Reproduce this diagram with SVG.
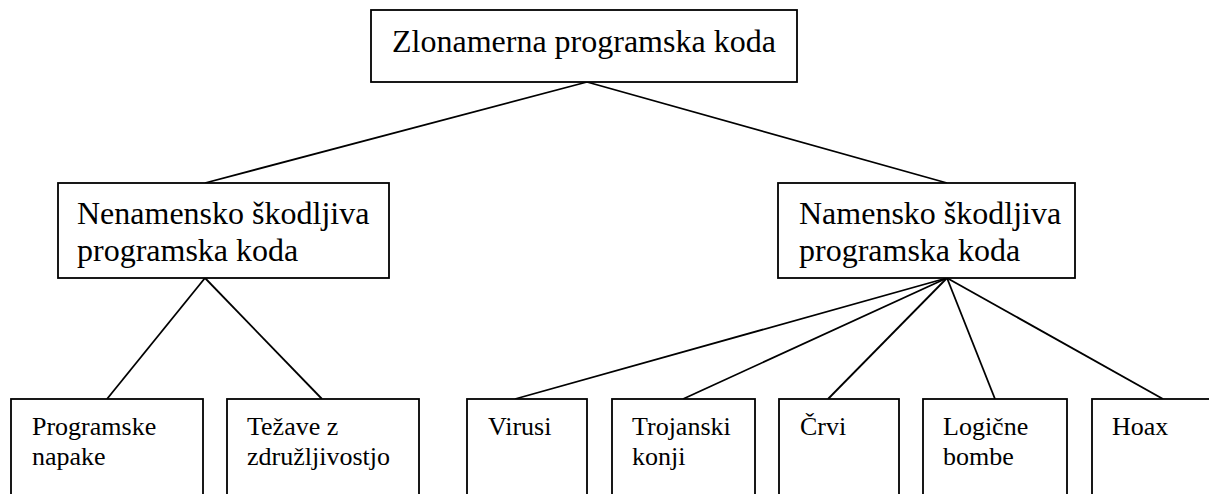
<svg xmlns="http://www.w3.org/2000/svg" width="1209" height="494" viewBox="0 0 1209 494">
<style>
.box{fill:#fff;stroke:#000;stroke-width:1.8}
.big{font-size:32px}
.small{font-size:26px}
#connectors line{stroke:#000;stroke-width:1.8}
</style>
<rect width="1209" height="494" fill="#fff"/>
<g id="connectors">
<line x1="587" y1="82" x2="205" y2="183"/>
<line x1="587" y1="82" x2="947" y2="183"/>
<line x1="205" y1="278" x2="107" y2="399"/>
<line x1="205" y1="278" x2="322" y2="399"/>
<line x1="947" y1="278" x2="515" y2="399"/>
<line x1="947" y1="278" x2="683" y2="399"/>
<line x1="947" y1="278" x2="828" y2="399"/>
<line x1="947" y1="278" x2="995" y2="399"/>
<line x1="947" y1="278" x2="1163" y2="399"/>
</g>
<g fill="#000">
<g id="root" font-family="Liberation Serif, serif">
<rect class="box" x="371" y="10" width="426" height="72"/>
<text class="big" x="392" y="52" font-family="Liberation Serif">Zlonamerna programska koda</text>
</g>
<g id="nenamensko" font-family="Liberation Serif, serif">
<rect class="box" x="58" y="183" width="331" height="95"/>
<text class="big" x="77" y="224" font-family="Liberation Serif">Nenamensko škodljiva</text>
<text class="big" x="77" y="261" font-family="Liberation Serif">programska koda</text>
</g>
<g id="namensko" font-family="Liberation Serif, serif">
<rect class="box" x="778" y="183" width="297" height="95"/>
<text class="big" x="799" y="224" font-family="Liberation Serif">Namensko škodljiva</text>
<text class="big" x="799" y="261" font-family="Liberation Serif">programska koda</text>
</g>
<g id="programske" font-family="Liberation Serif, serif">
<rect class="box" x="11" y="399" width="192" height="110"/>
<text class="small" x="32" y="435" font-family="Liberation Serif">Programske</text>
<text class="small" x="32" y="465" font-family="Liberation Serif">napake</text>
</g>
<g id="tezave" font-family="Liberation Serif, serif">
<rect class="box" x="227" y="399" width="192" height="110"/>
<text class="small" x="247" y="435" font-family="Liberation Serif">Težave z</text>
<text class="small" x="247" y="465" font-family="Liberation Serif">združljivostjo</text>
</g>
<g id="virusi" font-family="Liberation Serif, serif">
<rect class="box" x="467" y="399" width="120" height="110"/>
<text class="small" x="488" y="435" font-family="Liberation Serif">Virusi</text>
</g>
<g id="trojanski" font-family="Liberation Serif, serif">
<rect class="box" x="612" y="399" width="143" height="110"/>
<text class="small" x="632" y="435" font-family="Liberation Serif">Trojanski</text>
<text class="small" x="632" y="465" font-family="Liberation Serif">konji</text>
</g>
<g id="crvi" font-family="Liberation Serif, serif">
<rect class="box" x="779" y="399" width="120" height="110"/>
<text class="small" x="800" y="435" font-family="Liberation Serif">Črvi</text>
</g>
<g id="logicne" font-family="Liberation Serif, serif">
<rect class="box" x="923" y="399" width="144" height="110"/>
<text class="small" x="943" y="435" font-family="Liberation Serif">Logične</text>
<text class="small" x="943" y="465" font-family="Liberation Serif">bombe</text>
</g>
<g id="hoax" font-family="Liberation Serif, serif">
<rect class="box" x="1092" y="399" width="140" height="110"/>
<text class="small" x="1112" y="435" font-family="Liberation Serif">Hoax</text>
</g>
</g>
</svg>
